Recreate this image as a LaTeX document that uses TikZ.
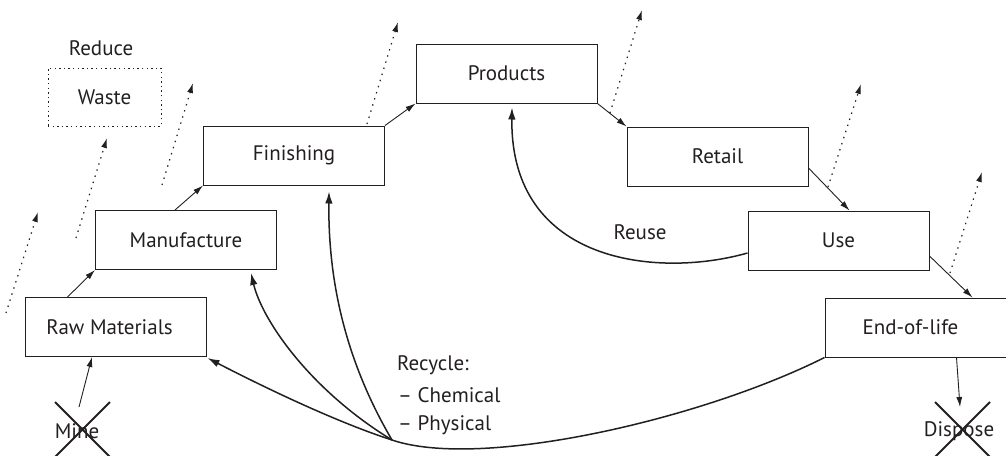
\documentclass[tikz,border=0pt]{standalone}
\usepackage{fontspec}
\setmainfont{PT Sans}
\usetikzlibrary{arrows.meta}
\definecolor{ink}{HTML}{231F20}
\begin{document}
\begin{tikzpicture}[x=1pt,y=-1pt,
  font=\fontsize{21}{24}\selectfont,
  stage/.style={draw=ink,line width=1pt,minimum width=181pt,minimum height=59pt,inner sep=0pt,text=ink},
  flow/.style={draw=ink,line width=0.9pt,-{Latex[length=10pt,width=6pt]}},
  loss/.style={draw=ink,line width=1.2pt,dash pattern=on 1.4pt off 5pt,-{Latex[length=10pt,width=6pt]}},
  loop/.style={draw=ink,line width=1.5pt,-{Latex[length=12pt,width=7.5pt]}},
  cross/.style={draw=ink,line width=2pt},
  lbl/.style={text=ink,inner sep=0pt}]
\useasboundingbox (0,0) rectangle (1006,455);

% process stages
\node[stage] (raw)    at (115.5,327)   {Raw Materials\hspace*{12pt}};
\node[stage] (manu)   at (186,240)     {Manufacture};
\node[stage] (fin)    at (294,155.5)   {Finishing};
\node[stage] (prod)   at (506.5,73.5)  {Products};
\node[stage] (retail) at (717.5,156.5) {Retail};
\node[stage] (use)    at (838.5,240.5) {Use};
\node[stage] (eol)    at (915.5,327.5) {End-of-life\hspace*{10pt}};

% waste box
\node[stage,dash pattern=on 1.4pt off 3.2pt,minimum width=113pt,minimum height=58pt] (waste) at (104.5,97) {Waste};
\node[lbl] (reduce) at (101,48) {Reduce};

% sources and sinks
\node[lbl] (mine) at (77,431) {Mine};
\node[lbl] (dispose) at (959,431) {Dispose};
\coordinate (mineTop) at (79,407);
\coordinate (disposeTop) at (960,407);
\draw[cross] (55,402) -- (110,457) (110,402) -- (55,457);
\draw[cross] (935,402) -- (990,457) (990,402) -- (935,457);

% main chain
\draw[flow] ([xshift=43pt]raw.north west) -- (manu.south west);
\draw[flow] ([xshift=80pt]manu.north west) -- (fin.south west);
\draw[flow] (fin.north east) -- (prod.south west);
\draw[flow] (prod.south east) -- (retail.north west);
\draw[flow] ([yshift=-11.5pt]retail.east) -- ([xshift=102pt]use.north west);
\draw[flow] ([yshift=-15.5pt]use.east) -- ([xshift=148pt]eol.north west);
\draw[flow] ([xshift=132pt]eol.south west) -- (disposeTop);
\draw[flow] (mineTop) -- ([xshift=-23.5pt]raw.south);

% losses
\coordinate (l1a) at (6,313);   \coordinate (l1b) at (38,212);
\coordinate (l2a) at (76,238);  \coordinate (l2b) at (107,138);
\coordinate (l3a) at (162,185); \coordinate (l3b) at (193,83);
\coordinate (l4a) at (367,124); \coordinate (l4b) at (398,22);
\coordinate (l5a) at (610,113); \coordinate (l5b) at (642,10);
\coordinate (l6a) at (828,187); \coordinate (l6b) at (861,84);
\coordinate (l7a) at (950,273); \coordinate (l7b) at (982,172);
\foreach \i in {1,...,7} \draw[loss] (l\i a) -- (l\i b);

% reuse loop
\draw[loop] ([yshift=-12.5pt]use.west) .. controls (660,278) and (510,265) .. ([xshift=5.5pt,yshift=-4pt]prod.south);
\node[lbl] (reuse) at (640,232) {Reuse};

% recycle loops
\coordinate (hub) at (392,440);
\draw[loop] (eol.south west) .. controls (700,420) and (480,470) .. (hub)
  .. controls (330,420) and (250,380) .. ([xshift=1pt,yshift=-1pt]raw.south east);
\draw[loop] (hub) .. controls (310,390) and (262,320) .. ([xshift=65pt,yshift=-3pt]manu.south);
\draw[loop] (hub) .. controls (345,360) and (328,280) .. ([xshift=35pt,yshift=-6pt]fin.south);
\node[lbl,anchor=west] (rec) at (397,365) {Recycle:};
\node[lbl,anchor=west] (chem) at (398,395) {-- Chemical};
\node[lbl,anchor=west] (phys) at (398,425) {-- Physical};
\end{tikzpicture}
\end{document}
